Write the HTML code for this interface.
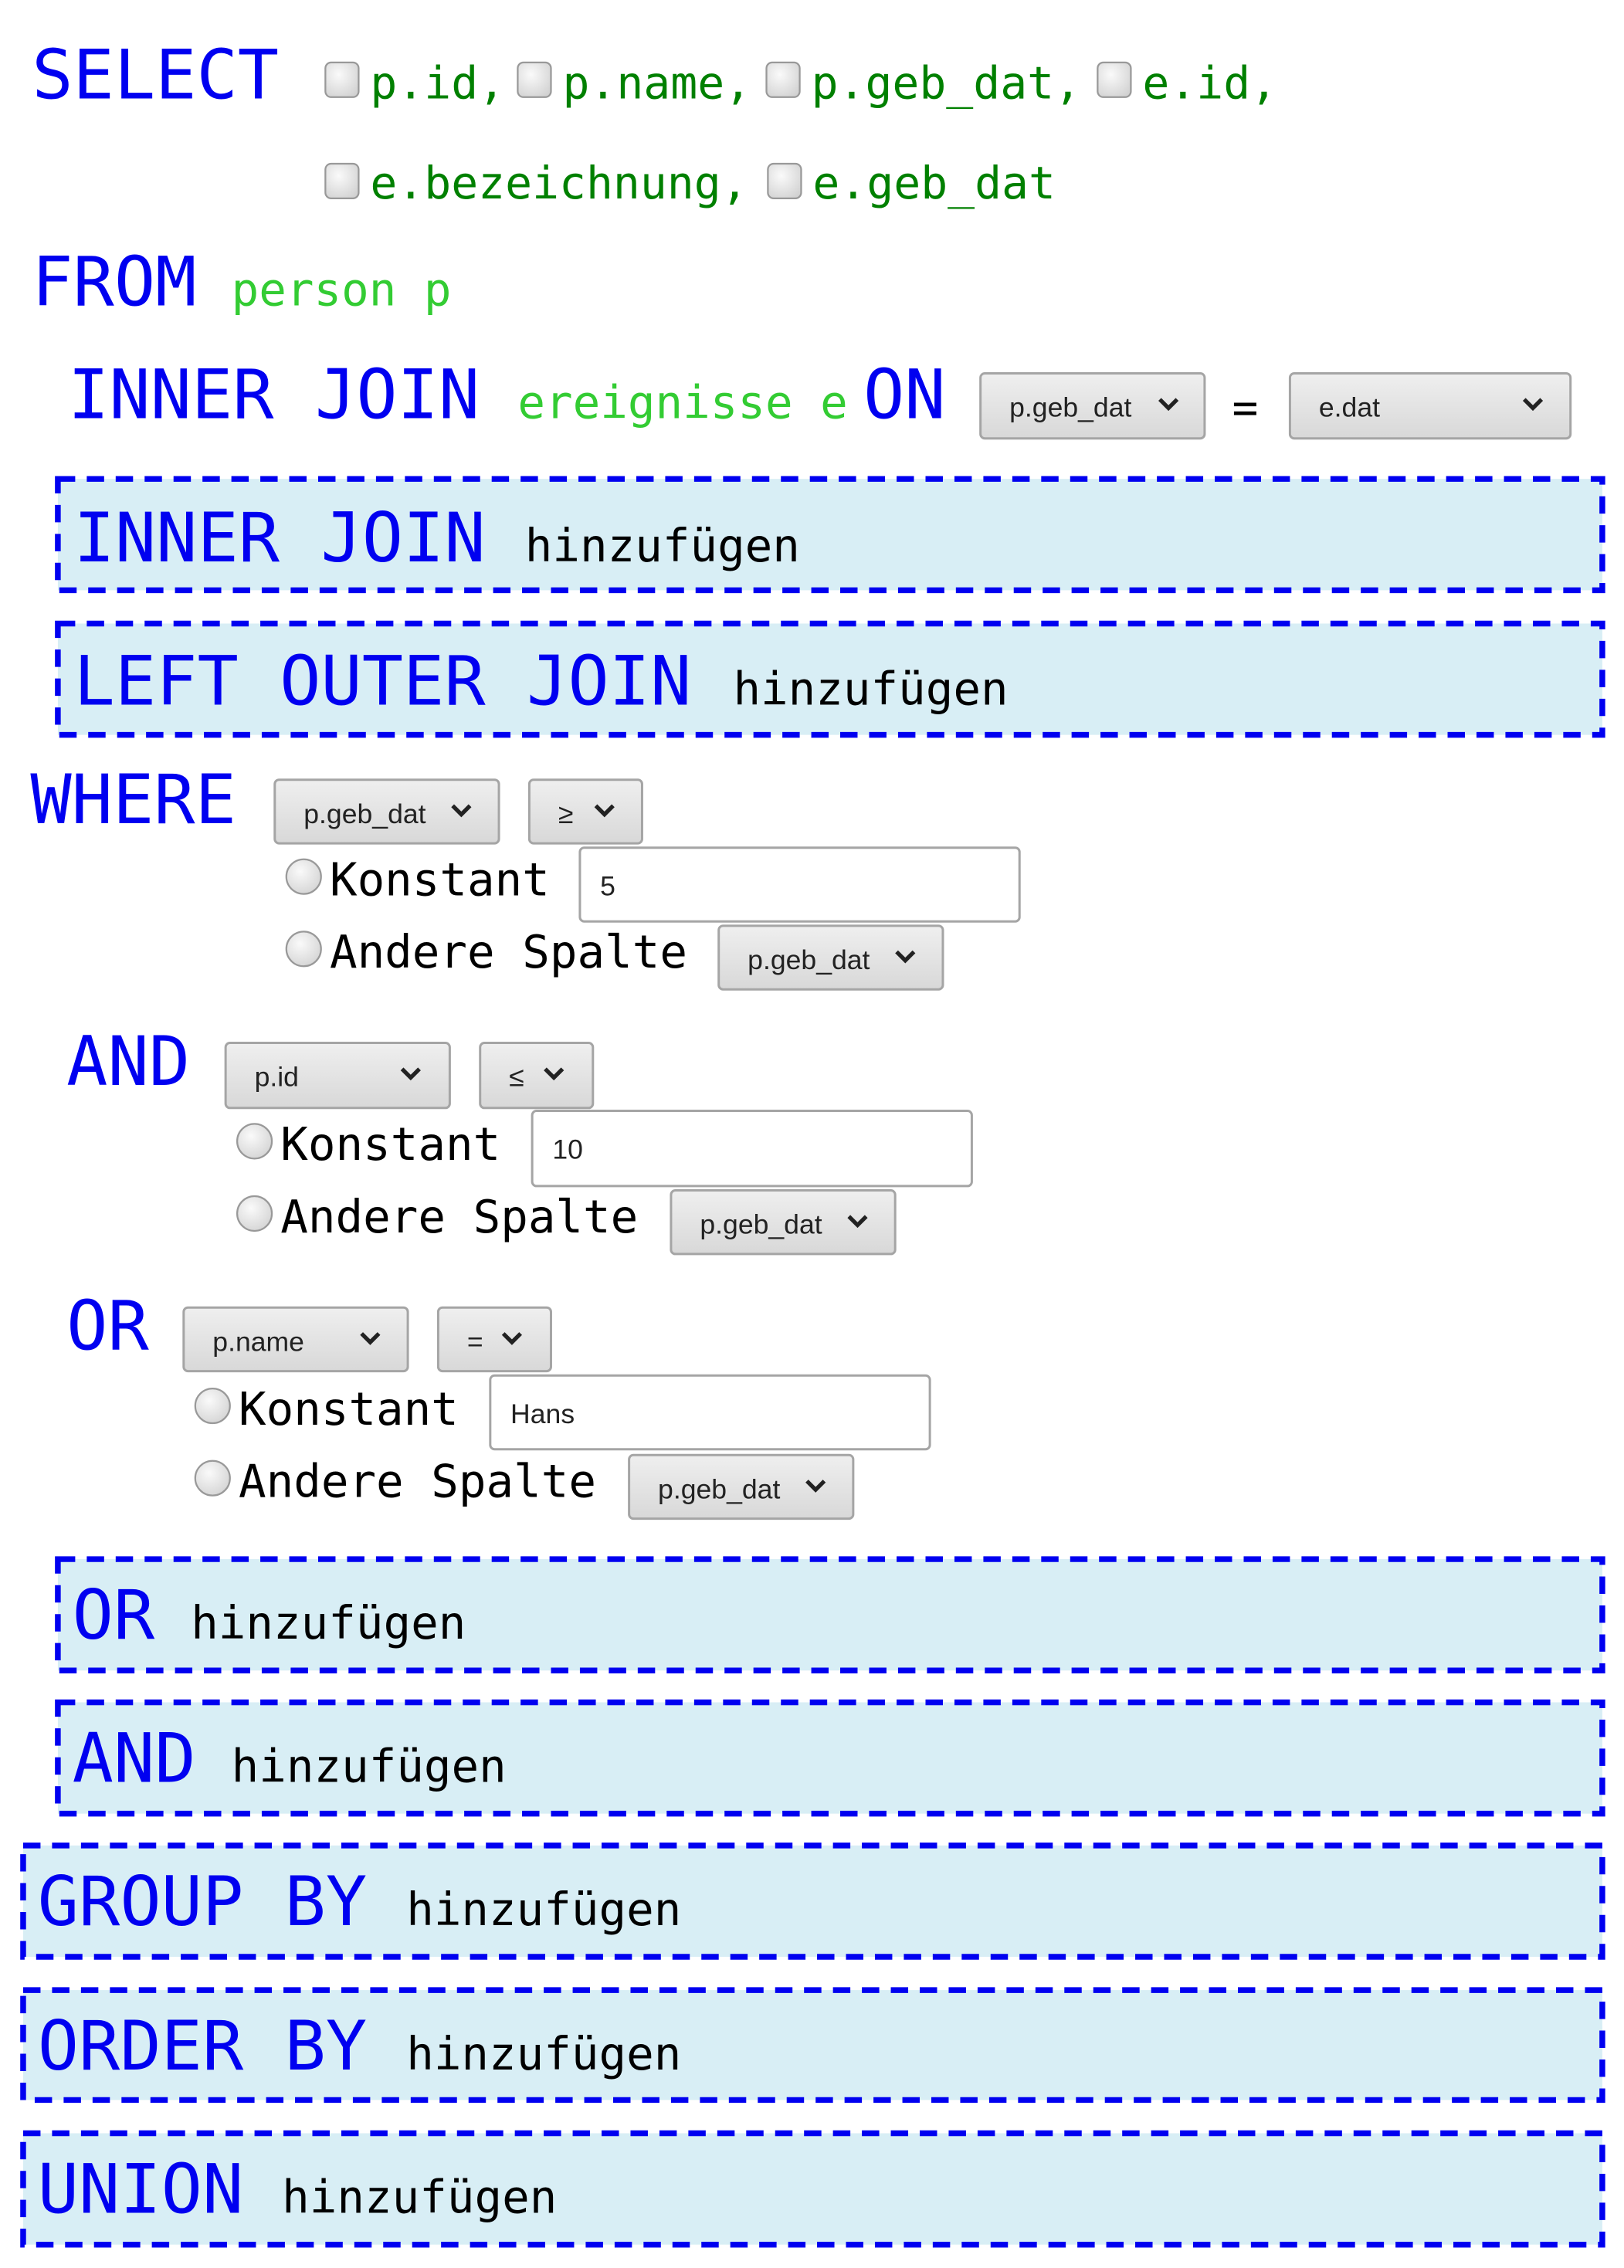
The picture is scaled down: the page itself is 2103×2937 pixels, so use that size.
<!DOCTYPE html>
<html><head><meta charset="utf-8"><style>
html,body{margin:0;padding:0;background:#fff;width:2103px;height:2937px;overflow:hidden}
svg{display:block}
.kw{font-family:"DejaVu Sans Mono","Liberation Mono",monospace;font-size:47.3px;fill:#0000f0}
.g{font-family:"DejaVu Sans Mono","Liberation Mono",monospace;font-size:31px;fill:#008000}
.lg{font-family:"DejaVu Sans Mono","Liberation Mono",monospace;font-size:31.6px;fill:#33cc33}
.bk{font-family:"DejaVu Sans Mono","Liberation Mono",monospace;font-size:31.6px;fill:#000}
.st{font-family:"Liberation Sans","DejaVu Sans",sans-serif;font-size:19px;fill:#222}
.sel{fill:url(#sg);stroke:#a5a5a5;stroke-width:1.6}
.chev{fill:none;stroke:#222;stroke-width:2.8}
.box{fill:#d8eef5;stroke:#0000f0;stroke-width:4;stroke-dasharray:12 8}
.cb{fill:url(#cg);stroke:#999;stroke-width:1.2}
.inp{fill:#fff;stroke:#a5a5a5;stroke-width:1.6}
</style></head><body>
<svg width="2103" height="2937" viewBox="0 0 1123 1568" xmlns="http://www.w3.org/2000/svg">
<defs>
<linearGradient id="sg" x1="0" y1="0" x2="0" y2="1"><stop offset="0" stop-color="#efefef"/><stop offset="1" stop-color="#d8d8d8"/></linearGradient>
<radialGradient id="cg" cx="0.4" cy="0.35" r="0.8"><stop offset="0" stop-color="#fafafa"/><stop offset="1" stop-color="#cfcfcf"/></radialGradient>
</defs>

<text class="kw" x="22" y="68">SELECT</text>
<rect class="cb" x="225" y="43" width="23" height="24" rx="4"/><text class="g" x="256" y="68">p.id,</text>
<rect class="cb" x="358" y="43" width="23" height="24" rx="4"/><text class="g" x="389" y="68">p.name,</text>
<rect class="cb" x="530" y="43" width="23" height="24" rx="4"/><text class="g" x="561" y="68">p.geb_dat,</text>
<rect class="cb" x="759" y="43" width="23" height="24" rx="4"/><text class="g" x="790" y="68">e.id,</text>
<rect class="cb" x="225" y="113" width="23" height="24" rx="4"/><text class="g" x="256" y="137">e.bezeichnung,</text>
<rect class="cb" x="531" y="113" width="23" height="24" rx="4"/><text class="g" x="562" y="137">e.geb_dat</text>

<text class="kw" x="22" y="211">FROM</text>
<text class="lg" x="160" y="211">person p</text>

<text class="kw" x="47" y="289">INNER JOIN</text>
<text class="lg" x="358" y="289">ereignisse e</text>
<text class="kw" x="597" y="289">ON</text>
<rect class="sel" x="678" y="258" width="155" height="45" rx="3"/><text class="st" x="698" y="288">p.geb_dat</text><path class="chev" d="M802 276 l6 6 l6 -6"/>
<text class="kw" x="852" y="292" style="font-size:30px;fill:#000">=</text>
<rect class="sel" x="892" y="258" width="194" height="45" rx="3"/><text class="st" x="912" y="288">e.dat</text><path class="chev" d="M1054 276 l6 6 l6 -6"/>

<rect class="box" x="40" y="331" width="1068" height="77"/>
<text class="kw" x="51" y="388">INNER JOIN</text><text class="bk" x="363" y="388">hinzufügen</text>
<rect class="box" x="40" y="431" width="1068" height="77"/>
<text class="kw" x="51" y="487">LEFT OUTER JOIN</text><text class="bk" x="507" y="487">hinzufügen</text>

<text class="kw" x="21" y="569">WHERE</text>
<rect class="sel" x="190" y="539" width="155" height="44" rx="3"/><text class="st" x="210" y="569">p.geb_dat</text><path class="chev" d="M313 557 l6 6 l6 -6"/>
<rect class="sel" x="366" y="539" width="78" height="44" rx="3"/><text class="st" x="386" y="569">≥</text><path class="chev" d="M412 557 l6 6 l6 -6"/>
<circle class="cb" cx="210" cy="606" r="12"/><text class="bk" x="228" y="619">Konstant</text>
<rect class="inp" x="401" y="586" width="304" height="51" rx="3"/><text class="st" x="415" y="619">5</text>
<circle class="cb" cx="210" cy="656" r="12"/><text class="bk" x="228" y="669">Andere Spalte</text>
<rect class="sel" x="497" y="640" width="155" height="44" rx="3"/><text class="st" x="517" y="670">p.geb_dat</text><path class="chev" d="M620 658 l6 6 l6 -6"/>

<text class="kw" x="46" y="750">AND</text>
<rect class="sel" x="156" y="721" width="155" height="45" rx="3"/><text class="st" x="176" y="751">p.id</text><path class="chev" d="M278 739 l6 6 l6 -6"/>
<rect class="sel" x="332" y="721" width="78" height="45" rx="3"/><text class="st" x="352" y="751">≤</text><path class="chev" d="M377 739 l6 6 l6 -6"/>
<circle class="cb" cx="176" cy="789" r="12"/><text class="bk" x="194" y="802">Konstant</text>
<rect class="inp" x="368" y="768" width="304" height="52" rx="3"/><text class="st" x="382" y="801">10</text>
<circle class="cb" cx="176" cy="839" r="12"/><text class="bk" x="194" y="852">Andere Spalte</text>
<rect class="sel" x="464" y="823" width="155" height="44" rx="3"/><text class="st" x="484" y="853">p.geb_dat</text><path class="chev" d="M587 841 l6 6 l6 -6"/>

<text class="kw" x="46" y="933">OR</text>
<rect class="sel" x="127" y="904" width="155" height="44" rx="3"/><text class="st" x="147" y="934">p.name</text><path class="chev" d="M250 922 l6 6 l6 -6"/>
<rect class="sel" x="303" y="904" width="78" height="44" rx="3"/><text class="st" x="323" y="934">=</text><path class="chev" d="M348 922 l6 6 l6 -6"/>
<circle class="cb" cx="147" cy="972" r="12"/><text class="bk" x="165" y="985">Konstant</text>
<rect class="inp" x="339" y="951" width="304" height="51" rx="3"/><text class="st" x="353" y="984">Hans</text>
<circle class="cb" cx="147" cy="1022" r="12"/><text class="bk" x="165" y="1035">Andere Spalte</text>
<rect class="sel" x="435" y="1006" width="155" height="44" rx="3"/><text class="st" x="455" y="1036">p.geb_dat</text><path class="chev" d="M558 1024 l6 6 l6 -6"/>

<rect class="box" x="40" y="1078" width="1068" height="77"/>
<text class="kw" x="50" y="1133">OR</text><text class="bk" x="132" y="1133">hinzufügen</text>
<rect class="box" x="40" y="1177" width="1068" height="77"/>
<text class="kw" x="50" y="1232">AND</text><text class="bk" x="160" y="1232">hinzufügen</text>
<rect class="box" x="16" y="1276" width="1092" height="77"/>
<text class="kw" x="26" y="1331">GROUP BY</text><text class="bk" x="281" y="1331">hinzufügen</text>
<rect class="box" x="16" y="1376" width="1092" height="76"/>
<text class="kw" x="26" y="1431">ORDER BY</text><text class="bk" x="281" y="1431">hinzufügen</text>
<rect class="box" x="16" y="1475" width="1092" height="77"/>
<text class="kw" x="26" y="1530">UNION</text><text class="bk" x="195" y="1530">hinzufügen</text>
</svg>
</body></html>
